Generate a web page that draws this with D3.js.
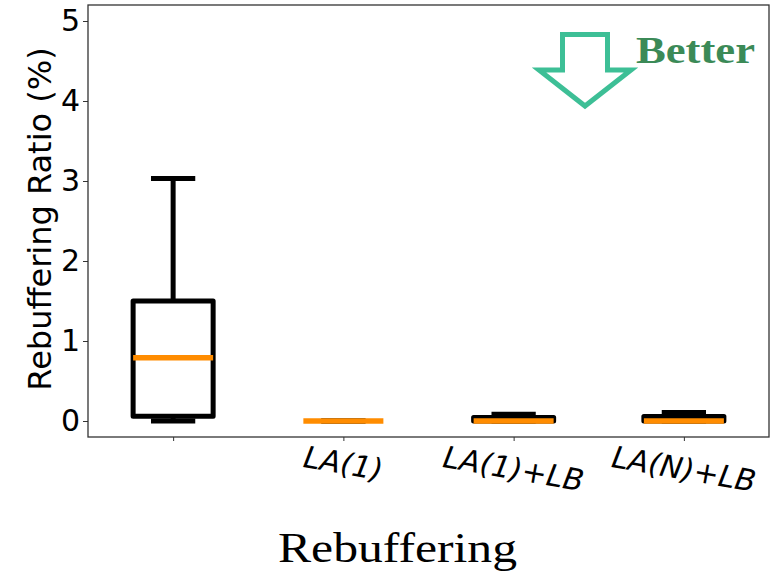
<!DOCTYPE html>
<html>
<head>
<meta charset="utf-8">
<script src="https://cdn.jsdelivr.net/npm/d3@7"></script>
<style>
  body { margin: 0; background: #fff; }
  svg { display: block; }
</style>
</head>
<body>
<svg id="contenedor"></svg>
<script>
// datos del boxplot
let categorias = ["", "LA(1)", "LA(1)+LB", "LA(N)+LB"];
let bigoteBajo = [0, 0, 0, 0];
let q1 = [0.06, 0, 0, 0];
let mediana = [0.79, 0, 0, 0];
let q3 = [1.5, 0, 0.045, 0.055];
let bigoteAlto = [3.03, 0, 0.085, 0.105];
let ticksY = [0, 1, 2, 3, 4, 5];

// juntar los arreglos en una lista de cajas
let cajas = categorias.map((c, i) => ({
  nombre: c,
  pos: i + 1,
  bajo: bigoteBajo[i],
  q1: q1[i],
  med: mediana[i],
  q3: q3[i],
  alto: bigoteAlto[i],
}));

// configuracion del area
function getConfig() {
  let width = 781;
  let height = 581;
  let margin = { top: 5, bottom: 144, left: 88, right: 12 };
  let bodyWidth = width - margin.left - margin.right;
  let bodyHeight = height - margin.top - margin.bottom;
  let container = d3.select("#contenedor");
  container.attr("width", width).attr("height", height);
  return { width, height, margin, bodyWidth, bodyHeight, container };
} // fin getConfig

function getScales(config) {
  let { margin, bodyWidth, bodyHeight } = config;
  let xScale = d3
    .scaleLinear()
    .domain([0.5, 4.5])
    .range([margin.left, margin.left + bodyWidth]);
  let yScale = d3
    .scaleLinear()
    .domain([-0.2, 5.2])
    .range([margin.top + bodyHeight, margin.top]);
  return { xScale, yScale };
} // fin getScales

function dibujarCajas(scales, config) {
  let { xScale, yScale } = scales;
  let { container } = config;
  let ancho = xScale(1.235) - xScale(1); // media caja
  let tapa = xScale(1.13) - xScale(1); // media tapa del bigote
  let g = container.append("g");

  let caja = g.selectAll(".caja").data(cajas).enter().append("g").attr("class", "caja");

  // bigotes
  caja
    .append("line")
    .attr("x1", (d) => xScale(d.pos))
    .attr("x2", (d) => xScale(d.pos))
    .attr("y1", (d) => yScale(d.q3))
    .attr("y2", (d) => yScale(d.alto))
    .attr("stroke", "#000")
    .attr("stroke-width", 5);
  caja
    .append("line")
    .attr("x1", (d) => xScale(d.pos))
    .attr("x2", (d) => xScale(d.pos))
    .attr("y1", (d) => yScale(d.q1))
    .attr("y2", (d) => yScale(d.bajo))
    .attr("stroke", "#000")
    .attr("stroke-width", 5);

  // tapas
  [(d) => d.alto, (d) => d.bajo].forEach((f) => {
    caja
      .append("line")
      .attr("x1", (d) => xScale(d.pos) - tapa)
      .attr("x2", (d) => xScale(d.pos) + tapa)
      .attr("y1", (d) => yScale(f(d)))
      .attr("y2", (d) => yScale(f(d)))
      .attr("stroke", "#000")
      .attr("stroke-width", 5);
  });

  // caja
  caja
    .append("rect")
    .attr("x", (d) => xScale(d.pos) - ancho)
    .attr("width", 2 * ancho)
    .attr("y", (d) => yScale(d.q3))
    .attr("height", (d) => yScale(d.q1) - yScale(d.q3))
    .attr("fill", "none")
    .attr("stroke", "#000")
    .attr("stroke-width", 5)
    .attr("stroke-linejoin", "round");

  // mediana
  caja
    .append("line")
    .attr("x1", (d) => xScale(d.pos) - ancho)
    .attr("x2", (d) => xScale(d.pos) + ancho)
    .attr("y1", (d) => yScale(d.med))
    .attr("y2", (d) => yScale(d.med))
    .attr("stroke", "#ff8c00")
    .attr("stroke-width", 5.5);
} // fin dibujarCajas

function dibujarAxes(scales, config) {
  let { xScale, yScale } = scales;
  let { container, margin, bodyWidth, bodyHeight } = config;
  let bottom = margin.top + bodyHeight;

  let axisY = d3
    .axisLeft(yScale)
    .tickValues(ticksY)
    .tickFormat(d3.format("d"))
    .tickSize(5)
    .tickPadding(3);
  let gy = container
    .append("g")
    .attr("transform", `translate(${margin.left},0)`)
    .call(axisY);
  gy.select(".domain").remove();
  gy.selectAll("line").attr("stroke", "#333");
  gy.selectAll("text")
    .attr("font-family", "DejaVu Sans")
    .attr("font-size", 30)
    .attr("fill", "#000");

  let axisX = d3
    .axisBottom(xScale)
    .tickValues(cajas.map((d) => d.pos))
    .tickSize(4)
    .tickFormat("");
  let gx = container
    .append("g")
    .attr("transform", `translate(0,${bottom})`)
    .call(axisX);
  gx.select(".domain").remove();
  gx.selectAll("line").attr("stroke", "#333");

  // etiquetas en x inclinadas
  let ang = 10;
  let rad = (ang * Math.PI) / 180;
  cajas.forEach((d) => {
    if (!d.nombre) return;
    let t = container
      .append("text")
      .attr("font-family", "DejaVu Sans")
      .attr("font-style", "oblique")
      .attr("font-size", 30)
      .attr("text-anchor", "middle")
      .attr("dominant-baseline", "central")
      .text(d.nombre);
    let w = t.node().getComputedTextLength();
    let h = 27;
    let cy = bottom + 6 + (w * Math.sin(rad) + h * Math.cos(rad)) / 2;
    t.attr("transform", `translate(${xScale(d.pos)},${cy}) rotate(${ang})`);
  });

  // marco
  container
    .append("rect")
    .attr("x", margin.left)
    .attr("y", margin.top)
    .attr("width", bodyWidth)
    .attr("height", bodyHeight)
    .attr("fill", "none")
    .attr("stroke", "#333")
    .attr("stroke-width", 1.3);

  // titulo del eje y
  container
    .append("text")
    .attr("transform", `translate(40,${margin.top + bodyHeight / 2 - 2}) rotate(-90)`)
    .attr("text-anchor", "middle")
    .attr("dominant-baseline", "central")
    .attr("font-family", "DejaVu Sans")
    .attr("font-size", 32)
    .text("Rebuffering Ratio (%)");

  // titulo inferior
  container
    .append("text")
    .attr("x", 278)
    .attr("y", 562)
    .attr("font-family", "Liberation Serif")
    .attr("font-size", 42)
    .attr("textLength", 239)
    .attr("lengthAdjust", "spacingAndGlyphs")
    .text("Rebuffering");
} // fin dibujarAxes

// flecha de "Better"
function dibujarFlecha(config) {
  let { container } = config;
  let pts = [
    [562.5, 34.5], [607.5, 34.5], [607.5, 70], [631, 70],
    [585, 106], [539, 70], [562.5, 70],
  ];
  container
    .append("path")
    .attr("d", d3.line()(pts) + "Z")
    .attr("fill", "none")
    .attr("stroke", "#3dbf96")
    .attr("stroke-width", 5)
    .attr("stroke-linejoin", "miter");
  container
    .append("text")
    .attr("x", 636)
    .attr("y", 63)
    .attr("font-family", "Liberation Serif")
    .attr("font-weight", "bold")
    .attr("font-size", 37)
    .attr("fill", "#3b8a57")
    .attr("textLength", 119)
    .attr("lengthAdjust", "spacingAndGlyphs")
    .text("Better");
} // fin dibujarFlecha

function dibujarChart() {
  let config = getConfig();
  let scales = getScales(config);
  dibujarCajas(scales, config);
  dibujarAxes(scales, config);
  dibujarFlecha(config);
}

dibujarChart();
</script>
</body>
</html>
